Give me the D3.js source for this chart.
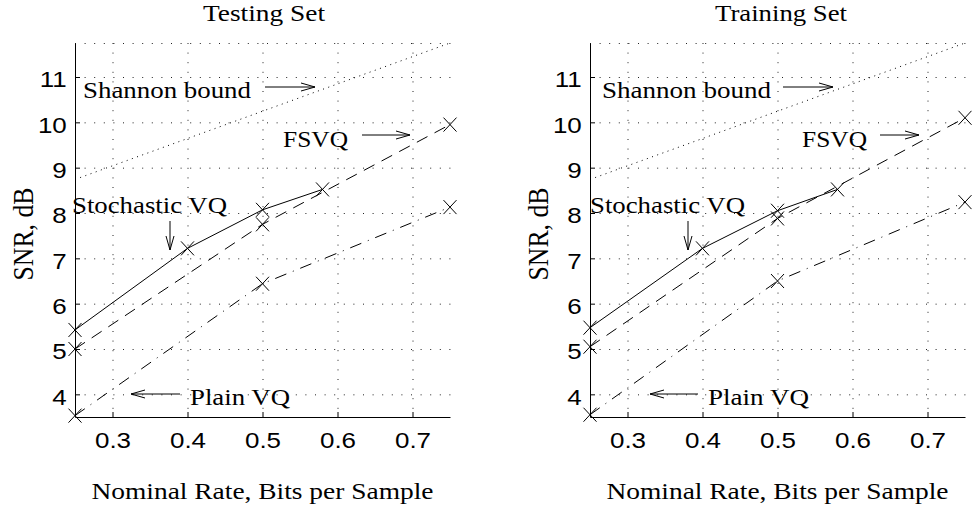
<!DOCTYPE html>
<html>
<head>
<meta charset="utf-8">
<script src="https://cdn.jsdelivr.net/npm/d3@7"></script>
<style>
  body { margin: 0; background: #fff; }
  svg { display: block; }
  .serif { font-family: "Liberation Serif", "Times New Roman", serif; fill: #000; }
  .tick text { font-family: "Liberation Sans", Arial, sans-serif; fill: #000; }
</style>
</head>
<body>
<div id="chart"></div>
<script>
// rates (bits per sample) where each coder was measured
const stochRate = [0.25, 0.4, 0.5, 0.58];
const fsvqRate = [0.25, 0.5, 0.75];
const plainRate = [0.25, 0.5, 0.75];
const shannonRate = [0.25, 0.75];

// SNR (dB), testing set
const testStoch = [5.42, 7.22, 8.07, 8.52];
const testFsvq = [5.0, 7.75, 9.95];
const testPlain = [3.53, 6.44, 8.13];
const testShannon = [8.74, 11.75];

// SNR (dB), training set
const trainStoch = [5.47, 7.22, 8.05, 8.52];
const trainFsvq = [5.05, 7.88, 10.1];
const trainPlain = [3.55, 6.5, 8.24];
const trainShannon = [8.74, 11.75];

const xTicks = [0.3, 0.4, 0.5, 0.6, 0.7];
const yTicks = [4, 5, 6, 7, 8, 9, 10, 11];
const xDomain = [0.25, 0.75];
const yDomain = [3.5, 11.75];

const titles = ["Testing Set", "Training Set"];
const xLabel = "Nominal Rate, Bits per Sample";
const yLabel = "SNR, dB";
const noteText = ["Shannon bound", "FSVQ", "Stochastic VQ", "Plain VQ"];

const width = 972, height = 507;

const svg = d3.select("#chart")
    .append("svg")
    .attr("width", width)
    .attr("height", height);

// pixel layout of each panel, annotations are relative to the page
const panels = [
    {
        left: 75, title: titles[0], titleX: 264, titleW: 122, ylabX: 33,
        stoch: testStoch, fsvq: testFsvq, plain: testPlain, shannon: testShannon,
        notes: [
            {x: 83, y: 98, w: 168, a: [265, 87, 315, 87]},
            {x: 283, y: 147, w: 65, a: [362, 135, 410, 135]},
            {x: 72, y: 213, w: 155, a: [170, 221, 170, 250]},
            {x: 190, y: 405, w: 100, a: [180, 394, 131, 394]}
        ]
    },
    {
        left: 590, title: titles[1], titleX: 781, titleW: 132, ylabX: 548,
        stoch: trainStoch, fsvq: trainFsvq, plain: trainPlain, shannon: trainShannon,
        notes: [
            {x: 602, y: 98, w: 169, a: [783, 87, 833, 87]},
            {x: 802, y: 147, w: 65, a: [880, 135, 919, 135]},
            {x: 590, y: 213, w: 155, a: [688, 221, 688, 250]},
            {x: 708, y: 405, w: 101, a: [698, 394, 650, 394]}
        ]
    }
];

function drawArrow(g, a) {
    var x1 = a[0], y1 = a[1], x2 = a[2], y2 = a[3];
    var len = Math.hypot(x2 - x1, y2 - y1);
    var ux = (x2 - x1) / len, uy = (y2 - y1) / len;
    var hx = x2 - ux * 14, hy = y2 - uy * 14;
    g.append("line")
        .attr("x1", x1).attr("y1", y1)
        .attr("x2", x2).attr("y2", y2)
        .attr("stroke", "#000").attr("stroke-width", 1);
    g.append("path")
        .attr("d", "M" + (hx - uy * 4) + "," + (hy + ux * 4) + "L" + x2 + "," + y2 +
            "L" + (hx + uy * 4) + "," + (hy - ux * 4))
        .attr("fill", "none").attr("stroke", "#000").attr("stroke-width", 1);
}

function drawPanel(p) {
    var x = d3.scaleLinear().domain(xDomain).range([p.left, p.left + 375]);
    var y = d3.scaleLinear().domain(yDomain).range([417, 43]);
    var g = svg.append("g");

    // dotted grid, plus the dotted frame line on top
    g.selectAll(".vgrid").data(xTicks).enter().append("line")
        .attr("x1", d => x(d) + 0.5).attr("x2", d => x(d) + 0.5)
        .attr("y1", y(yDomain[1])).attr("y2", y(yDomain[0]))
        .attr("stroke", "#222").attr("stroke-dasharray", "1,8.6");
    g.selectAll(".hgrid").data(yTicks.concat([yDomain[1]])).enter().append("line")
        .attr("x1", x(xDomain[0])).attr("x2", x(xDomain[1]) + 2)
        .attr("y1", d => y(d) + 0.5).attr("y2", d => y(d) + 0.5)
        .attr("stroke", "#222").attr("stroke-dasharray", "1,8.6");

    // axes with inward ticks
    var yAxis = g.append("g")
        .call(d3.axisLeft(y).tickValues(yTicks).tickFormat(d3.format("d"))
            .tickSizeInner(-5).tickSizeOuter(0).tickPadding(7))
        .attr("transform", "translate(" + p.left + ",0)");
    var xAxis = g.append("g")
        .attr("transform", "translate(0,417)")
        .call(d3.axisBottom(x).tickValues(xTicks).tickFormat(d3.format(".1f"))
            .tickSizeInner(-5).tickSizeOuter(0));
    [yAxis, xAxis].forEach(function(ax) {
        ax.select(".domain").attr("stroke", "#000");
        ax.selectAll(".tick line").attr("stroke", "#000");
        ax.attr("font-family", null);
        ax.selectAll("text").attr("font-size", 22).style("font-size", "22px");
    });
    yAxis.selectAll("text").attr("dy", "0.45em").attr("transform", "scale(1.18,1)");
    xAxis.selectAll("text").attr("y", 31).attr("dy", 0).attr("transform", "scale(1.18,1)");

    var line = d3.line().x(d => x(d[0])).y(d => y(d[1]));
    var series = [
        {pts: d3.zip(shannonRate, p.shannon), dash: "1,4.5", marks: false},
        {pts: d3.zip(plainRate, p.plain), dash: "12,7,1,7", marks: true},
        {pts: d3.zip(fsvqRate, p.fsvq), dash: "12,8", marks: true},
        {pts: d3.zip(stochRate, p.stoch), dash: null, marks: true}
    ];
    series.forEach(function(s) {
        g.append("path")
            .attr("d", line(s.pts))
            .attr("fill", "none")
            .attr("stroke", "#000")
            .attr("stroke-width", 1)
            .attr("stroke-dasharray", s.dash);
        if (s.marks) {
            g.selectAll(null).data(s.pts).enter().append("path")
                .attr("transform", d => "translate(" + x(d[0]) + "," + y(d[1]) + ")")
                .attr("d", "M-6.5,-7L6.5,7M-6.5,7L6.5,-7")
                .attr("stroke", "#000").attr("stroke-width", 1).attr("fill", "none");
        }
    });

    // titles and labels
    g.append("text").attr("class", "serif")
        .attr("x", p.titleX).attr("y", 21)
        .attr("text-anchor", "middle").attr("font-size", 23)
        .attr("textLength", p.titleW).attr("lengthAdjust", "spacingAndGlyphs")
        .text(p.title);
    g.append("text").attr("class", "serif")
        .attr("x", p.left + 187.5).attr("y", 499)
        .attr("text-anchor", "middle").attr("font-size", 23)
        .attr("textLength", 342).attr("lengthAdjust", "spacingAndGlyphs")
        .text(xLabel);
    g.append("text").attr("class", "serif")
        .attr("transform", "translate(" + p.ylabX + ",234) rotate(-90)")
        .attr("text-anchor", "middle").attr("font-size", 30)
        .attr("textLength", 93).attr("lengthAdjust", "spacingAndGlyphs")
        .text(yLabel);

    p.notes.forEach(function(n, i) {
        g.append("text").attr("class", "serif")
            .attr("x", n.x).attr("y", n.y)
            .attr("font-size", 24)
            .attr("textLength", n.w).attr("lengthAdjust", "spacingAndGlyphs")
            .text(noteText[i]);
        drawArrow(g, n.a);
    });
}

panels.forEach(drawPanel);
</script>
</body>
</html>
